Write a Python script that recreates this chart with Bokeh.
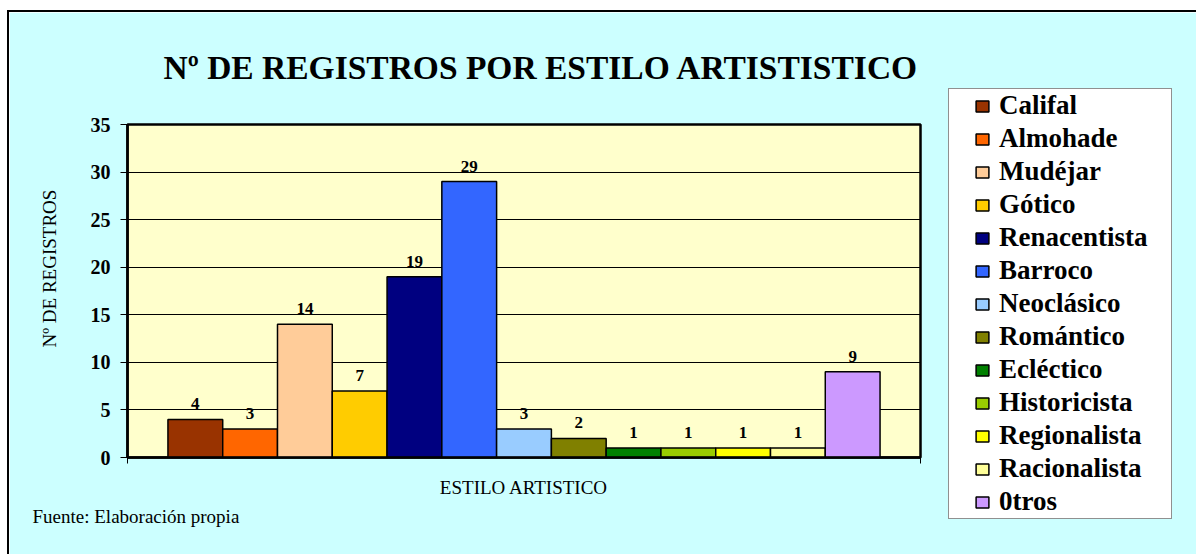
from bokeh.core.properties import value
from bokeh.embed import file_html
from bokeh.models import ColumnDataSource, FixedTicker, LabelSet, Range1d, Title
from bokeh.plotting import figure
from bokeh.resources import INLINE

# Data
estilos = ["Califal", "Almohade", "Mudéjar", "Gótico", "Renacentista", "Barroco",
           "Neoclásico", "Romántico", "Ecléctico", "Historicista", "Regionalista",
           "Racionalista", "0tros"]
registros = [4, 3, 14, 7, 19, 29, 3, 2, 1, 1, 1, 1, 9]
colores = ["#993300", "#FF6600", "#FFCC99", "#FFCC00", "#000080", "#3366FF",
           "#99CCFF", "#808000", "#008000", "#99CC00", "#FFFF00", "#FFFF99",
           "#CC99FF"]
y_ticks = [0, 5, 10, 15, 20, 25, 30, 35]

titulo = "Nº DE REGISTROS POR ESTILO ARTISTISTICO"
eje_x = "ESTILO ARTISTICO"
eje_y = "Nº DE REGISTROS"
fuente = "Fuente: Elaboración propia"

SERIF = "Liberation Serif"

# All series share one category; bars sit side by side inside it
GROUP = 0.898
n = len(estilos)
bar_w = GROUP / n
xs = [(1 - GROUP) / 2 + (i + 0.5) * bar_w for i in range(n)]

src = ColumnDataSource(dict(x=xs, y=registros, estilo=estilos, color=colores,
                            txt=[str(v) for v in registros]))

p = figure(height=544,
           x_range=Range1d(0, 1), y_range=Range1d(0, 35),
           output_backend="svg", toolbar_location=None,
           min_border_left=118, min_border_right=276,
           min_border_top=112, min_border_bottom=99)
p.frame_width = 793
p.margin = (10, 0, 0, 7)
p.styles = {"border-top": "2px solid black", "border-left": "2px solid black"}

p.background_fill_color = "#FFFFCC"
p.border_fill_color = "#CCFFFF"
p.outline_line_color = "black"
p.outline_line_width = 2.5

# Title
p.title.text = titulo
p.title.text_font = SERIF
p.title.text_font_size = "33.5px"
p.title.text_font_style = "bold"
p.title.text_color = "black"
p.title.align = "left"
p.title.offset = 36
p.title.vertical_align = "top"
p.title.standoff = 73

# X axis: only the category boundaries are ticked
p.xaxis.ticker = FixedTicker(ticks=[0, 1])
p.xaxis.major_label_overrides = {0: "", 1: ""}
p.xaxis.major_label_standoff = 0
p.xaxis.major_tick_out = 6
p.xaxis.major_tick_in = 0
p.xaxis.major_tick_line_color = "black"
p.xaxis.axis_line_color = "black"
p.xaxis.axis_line_width = 2.5
p.xaxis.minor_tick_line_color = None
p.xaxis.axis_label = eje_x
p.xaxis.axis_label_text_font = SERIF
p.xaxis.axis_label_text_font_style = "normal"
p.xaxis.axis_label_text_font_size = "19px"
p.xaxis.axis_label_text_color = "black"
p.xaxis.axis_label_standoff = 13

# Y axis
p.yaxis.ticker = FixedTicker(ticks=y_ticks)
p.yaxis.major_tick_out = 7
p.yaxis.major_tick_in = 0
p.yaxis.major_tick_line_color = "black"
p.yaxis.minor_tick_line_color = None
p.yaxis.axis_line_color = "black"
p.yaxis.axis_line_width = 2.5
p.yaxis.major_label_standoff = 10
p.yaxis.major_label_text_font = SERIF
p.yaxis.major_label_text_font_style = "bold"
p.yaxis.major_label_text_font_size = "20px"
p.yaxis.major_label_text_color = "black"

p.xgrid.visible = False
p.ygrid.ticker = FixedTicker(ticks=y_ticks)
p.ygrid.grid_line_color = "black"
p.ygrid.grid_line_width = 1

p.vbar(x="x", top="y", bottom=0, width=bar_w, source=src,
       fill_color="color", line_color="black", line_width=1.5,
       legend_field="estilo")

p.add_layout(LabelSet(x="x", y="y", text="txt", source=src,
                      text_align="center", text_baseline="alphabetic",
                      y_offset=10, text_font=value(SERIF),
                      text_font_style="bold", text_font_size="17px",
                      text_color="black"))

# Vertical axis title, in its own side panel
p.add_layout(Title(text=eje_y, align="left", offset=110, standoff=55,
                   text_font=SERIF, text_font_size="19px",
                   text_font_style="normal", text_color="black"), "left")

# Source note under the axis title
p.add_layout(Title(text=fuente, align="left", offset=-95, standoff=7,
                   text_font=SERIF, text_font_size="19px",
                   text_font_style="normal", text_color="black"), "below")

# Legend beside the plot area
leg = p.legend[0]
p.center.remove(leg)
p.add_layout(leg, "right")
leg.location = (28, -62)
leg.label_text_font = SERIF
leg.label_text_font_style = "bold"
leg.label_text_font_size = "27px"
leg.label_text_color = "black"
leg.glyph_width = 16
leg.glyph_height = 14
leg.label_standoff = 9
leg.label_height = 20
leg.label_width = 171
leg.padding = 1
leg.spacing = 2
leg.title = " "
leg.title_location = "left"
leg.title_text_font_size = "14px"
leg.title_standoff = 8
leg.border_line_color = "#222222"
leg.border_line_width = 1.5
leg.background_fill_color = "white"
leg.background_fill_alpha = 1

open("out.html", "w").write(file_html(p, INLINE))
